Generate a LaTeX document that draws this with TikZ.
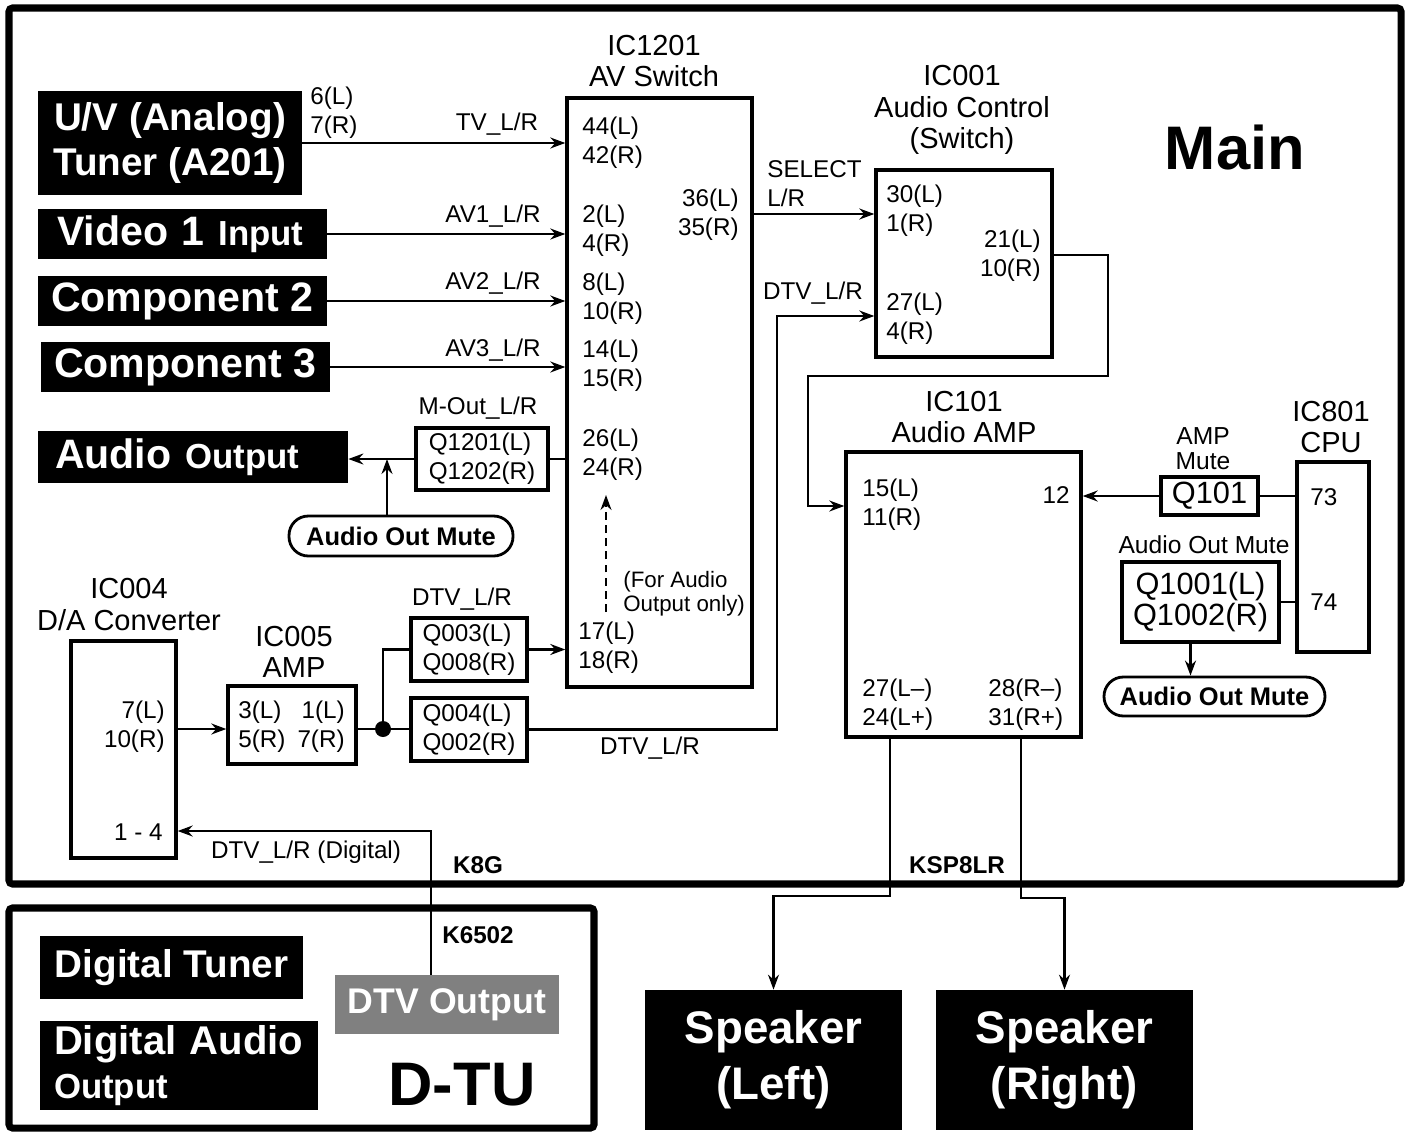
\documentclass[tikz,border=0pt]{standalone}
\usepackage{fontspec}
\setmainfont{Liberation Sans}
\usetikzlibrary{arrows.meta}
\newcommand{\pinf}{\fontsize{13.8pt}{16.4pt}\selectfont}
\newcommand{\ttlf}{\fontsize{16.5pt}{18pt}\selectfont}
\newcommand{\bigf}{\bfseries\fontsize{22pt}{26pt}\selectfont}
\newcommand{\widef}{\bfseries\fontsize{23.4pt}{26pt}\selectfont}
\newcommand{\midf}{\bfseries\fontsize{19.8pt}{26pt}\selectfont}
\newcommand{\qf}{\fontsize{17.5pt}{17.6pt}\selectfont}
\newcommand{\mutef}{\bfseries\fontsize{14.5pt}{16pt}\selectfont}
\newcommand{\hugef}{\bfseries\fontsize{35pt}{40pt}\selectfont}
\tikzset{
  sz/.style 2 args={minimum width=#1*0.02cm, minimum height=#2*0.02cm},
  icbox/.style={draw, line width=1.9pt, inner sep=0pt},
  blk/.style={fill=black, text=white, inner sep=0pt, align=center, font=\bigf},
  pinl/.style={inner sep=0pt, font=\pinf, align=left, anchor=west},
  pinr/.style={inner sep=0pt, font=\pinf, align=right, anchor=east},
  ttl/.style={inner sep=0pt, font=\ttlf, align=center},
  sig/.style={inner sep=0pt, font=\pinf},
  plug/.style={inner sep=0pt, font=\bfseries\fontsize{13.8pt}{16pt}\selectfont},
  conn/.style={line width=1.6pt},
  wire/.style={line width=1.35pt},
  mute/.style={draw, line width=1.6pt, rounded corners=11pt, inner sep=0pt, font=\mutef},
  board/.style={line width=4pt, rounded corners=2pt}
}
\begin{document}
\begin{tikzpicture}[x=0.02cm, y=-0.02cm, >={Stealth[length=8.5pt,width=6.2pt]}]
\useasboundingbox (0,0) rectangle (1409,1132);

% boards
\draw[board] (9,8) rectangle (1401,884);
\draw[board] (9,908) rectangle (594,1128);
\node[inner sep=0pt, font=\hugef] (main) at (1235,148) {Main};
\node[inner sep=0pt, font=\hugef] (dtu) at (462,1085) {D-TU};

% sources
\node[blk, sz={264}{104}] (uv) at (170,143) {U/V (Analog)\\Tuner (A201)};
\node[pinl] (uvpin) at (310,112.5) {6(L)\\7(R)};
\node[blk, sz={289}{50}, font=\widef, align=left, text width=251*0.02cm, inner xsep=19*0.02cm] (video) at (182.5,234) {Video 1 {\midf Input}};
\node[blk, sz={289}{50}, font=\widef] (comp2) at (182.5,301) {Component 2};
\node[blk, sz={289}{50}, font=\widef] (comp3) at (185.5,367) {Component 3};
\node[blk, sz={310}{52}, font=\widef, align=left, text width=276*0.02cm, inner xsep=17*0.02cm] (aout) at (193,457) {Audio {\midf Output}};

% IC1201
\node[icbox, sz={185}{589}] (ic1201) at (659.5,392.5) {};
\node[ttl] (ic1201t) at (654,61) {IC1201\\AV Switch};
\node[pinl] (p44) at (582,142.5) {44(L)\\42(R)};
\node[pinl] (p2) at (582,230.5) {2(L)\\4(R)};
\node[pinl] (p8) at (582,298.5) {8(L)\\10(R)};
\node[pinl] (p14) at (582,365.5) {14(L)\\15(R)};
\node[pinl] (p26) at (582,454.5) {26(L)\\24(R)};
\node[pinl] (p17) at (578,647.5) {17(L)\\18(R)};
\node[pinr] (p36) at (739,214.5) {36(L)\\35(R)};
\node[inner sep=0pt, anchor=west, align=left, font=\fontsize{12.7pt}{13.8pt}\selectfont] (fornote) at (623,594) {(For Audio\\Output only)};
\coordinate (fa1) at (606,612);
\coordinate (fa2) at (606,495);
\draw[line width=1.2pt, dash pattern=on 4.5pt off 3pt, ->] (fa1) -- (fa2);

\draw[conn,->] (uv.east) -- (uv.east -| ic1201.west);
\draw[conn,->] (video.east) -- (video.east -| ic1201.west);
\draw[conn,->] (comp2.east) -- (comp2.east -| ic1201.west);
\draw[conn,->] (comp3.east) -- (comp3.east -| ic1201.west);
\node[sig] (tvlr) at (497,124) {TV\_L/R};
\node[sig] (av1) at (493,216) {AV1\_L/R};
\node[sig] (av2) at (493,283) {AV2\_L/R};
\node[sig] (av3) at (493,350) {AV3\_L/R};

% audio output
\node[icbox, sz={132}{62}, font=\pinf, align=left] (q1201) at (482,459) {Q1201(L)\\Q1202(R)};
\node[sig] (mout) at (478,408) {M-Out\_L/R};
\node[mute, sz={224}{40}] (mute1) at (401,536) {Audio Out Mute};
\coordinate (mj) at (387,459);
\draw[conn] (q1201.east) -- (q1201.east -| ic1201.west);
\draw[conn,->] (q1201.west) -- (q1201.west -| aout.east);
\draw[conn,->] (mute1.north -| mj) -- (mj);

% IC001
\node[icbox, sz={176}{187}] (ic001) at (964,263.5) {};
\node[ttl] (ic001t) at (962,110) {IC001\\Audio Control\\(Switch)};
\node[pinl] (p30) at (886,210.5) {30(L)\\1(R)};
\node[pinl] (p27) at (886,318.5) {27(L)\\4(R)};
\node[pinr] (p21) at (1041,256) {21(L)\\10(R)};
\coordinate (sel) at (752,214);
\draw[conn,->] (sel) -- (sel -| ic001.west);
\node[inner sep=0pt, anchor=west, align=left, font=\pinf] (sellr) at (767,184) {SELECT\\L/R};

% IC101
\node[icbox, sz={235}{285}] (ic101) at (963.5,594.5) {};
\node[ttl] (ic101t) at (964,417) {IC101\\Audio AMP};
\node[pinl] (p15) at (862,504.5) {15(L)\\11(R)};
\node[pinr] (p12) at (1070,495) {12};
\node[pinl] (p27b) at (862,704.5) {27(L--)\\24(L+)};
\node[pinl] (p28) at (988,704.5) {28(R--)\\31(R+)};
\coordinate (ic001o) at (1052,255);
\coordinate (ampin) at (808,506);
\draw[conn,->] (ic001o) -| (1108,376) -| (ampin) -- (ampin -| ic101.west);

% IC801 and mute transistors
\node[icbox, sz={72}{190}] (ic801) at (1333,557) {};
\node[ttl] (ic801t) at (1331,427) {IC801\\CPU};
\node[pinl] (p73) at (1310,497) {73};
\node[pinl] (p74) at (1310,602) {74};
\node[icbox, sz={97}{38}, font=\qf] (q101) at (1209.5,496) {Q101};
\node[inner sep=0pt, align=center, font=\fontsize{14pt}{14.2pt}\selectfont] (ampmute) at (1203,448.5) {AMP\\Mute};
\draw[conn,->] (q101.west) -- (q101.west -| ic101.east);
\draw[conn] (q101.east) -- (q101.east -| ic801.west);
\node[icbox, sz={157}{80}, font=\qf, align=center] (q1001) at (1200.5,602) {Q1001(L)\\Q1002(R)};
\node[inner sep=0pt, font=\fontsize{14pt}{16pt}\selectfont] (aomlbl) at (1204,545) {Audio Out Mute};
\draw[conn] (q1001.east) -- (q1001.east -| ic801.west);
\node[mute, sz={221}{39}] (mute2) at (1214.5,696.5) {Audio Out Mute};
\draw[conn,->] ([xshift=-10*0.02cm]q1001.south) -- ([xshift=-10*0.02cm]q1001.south |- mute2.north);

% DTV path
\node[icbox, sz={105}{217}] (ic004) at (123.5,749.5) {};
\node[ttl] (ic004t) at (129,604.5) {IC004\\D/A Converter};
\node[pinr] (p7) at (165,726.5) {7(L)\\10(R)};
\node[pinr] (p1) at (163,832) {1 - 4};
\node[icbox, sz={128}{78}] (ic005) at (292,725) {};
\node[ttl] (ic005t) at (294,652) {IC005\\AMP};
\node[pinl] (p3) at (238,726.5) {3(L)\\5(R)};
\node[pinr] (p1b) at (345,726.5) {1(L)\\7(R)};
\node[icbox, sz={116}{63}, font=\pinf, align=left] (q003) at (469,649.5) {Q003(L)\\Q008(R)};
\node[icbox, sz={116}{63}, font=\pinf, align=left] (q004) at (469,729.5) {Q004(L)\\Q002(R)};
\node[sig] (dtv1) at (462,599) {DTV\_L/R};
\node[circle, fill=black, inner sep=0pt, minimum size=16*0.02cm] (dot) at (383,729) {};
\coordinate (dac) at (176,729);
\draw[conn,->] (dac) -- (dac -| ic005.west);
\draw[conn] (ic005.east |- dot) -- (dot) -- (q004.west |- dot);
\draw[conn] (dot) |- (q003.west);
\draw[conn,->] (q003.east) -- (q003.east -| ic1201.west);
\coordinate (dtvin) at (777,316);
\draw[conn,->] (q004.east) -| (dtvin) -- (dtvin -| ic001.west);
\node[sig] (dtv2) at (650,748) {DTV\_L/R};
\node[sig] (dtv3) at (813,293) {DTV\_L/R};

% D-TU
\node[blk, sz={263}{63}] (dtuner) at (171.5,967.5) {Digital Tuner};
\node[blk, sz={278}{89}, font=\bfseries\fontsize{22.8pt}{25.5pt}\selectfont, align=left, text width=250*0.02cm, inner xsep=14*0.02cm] (daout) at (179,1065.5) {\mbox{Digital Audio}\\{\midf Output}};
\node[fill=black!50, text=white, inner sep=0pt, font=\bfseries\fontsize{20.3pt}{24pt}\selectfont, sz={224}{59}] (dtvout) at (447,1004.5) {DTV Output};
\coordinate (dig) at (431,831);
\draw[wire,->] (dtvout.north -| dig) -- (dig) -- (dig -| ic004.east);
\node[sig] (diglbl) at (306,852) {DTV\_L/R (Digital)};
\node[plug] (k8g) at (478,865) {K8G};
\node[plug] (k6502) at (478,935) {K6502};

% speakers
\node[blk, sz={257}{140}, font=\bfseries\fontsize{26pt}{32pt}\selectfont] (spkl) at (773.5,1060) {Speaker\\(Left)};
\node[blk, sz={257}{140}, font=\bfseries\fontsize{26pt}{32pt}\selectfont] (spkr) at (1064.5,1060) {Speaker\\(Right)};
\coordinate (lout) at (890,896);
\coordinate (rout) at (1021,898);
\draw[wire,->] (ic101.south -| lout) -- (lout) -| (spkl.north);
\draw[wire,->] (ic101.south -| rout) -- (rout) -| (spkr.north);
\node[plug] (ksp) at (957,865) {KSP8LR};
\end{tikzpicture}
\end{document}
